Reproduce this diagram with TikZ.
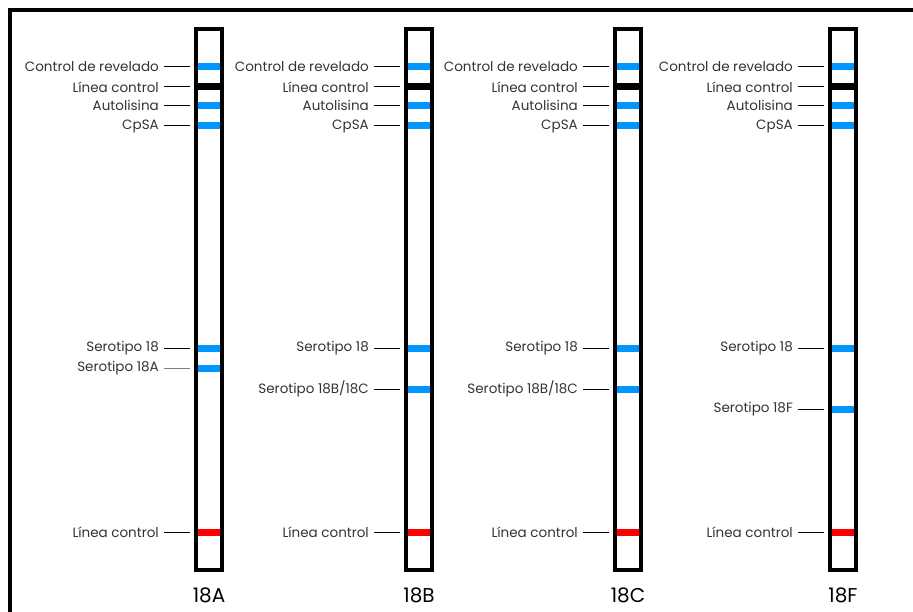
\documentclass[tikz,border=0pt]{standalone}
\usepackage{fontspec}
\setmainfont{Poppins}
\definecolor{bandblue}{RGB}{0,150,255}
\definecolor{bandred}{RGB}{255,0,0}
\definecolor{labgray}{RGB}{51,51,51}
\newcommand\mkband[7]{%
  \node[band,fill=#6] (b#1#3) at (#2,#4) {};
  \node[lab] (t#1#3) at (#2-50,#4) {#5};
  \draw[conn,#7] ([xshift=5pt]t#1#3.east) -- ([xshift=-8pt]b#1#3.west);
}
\begin{document}
\begin{tikzpicture}[x=1pt,y=-1pt,
  strip/.style={draw=black,line width=4pt,fill=white,inner sep=0pt,minimum width=26pt,minimum height=541pt},
  band/.style={inner sep=0pt,minimum width=22pt,minimum height=7pt,draw=none},
  lab/.style={anchor=east,inner sep=0pt,font=\fontsize{13.5}{15}\selectfont,text=labgray},
  conn/.style={line width=1pt},
  stitle/.style={font=\fontsize{20}{22}\selectfont,text=black}
]
\useasboundingbox (0,0) rectangle (913,612);
\draw[line width=4pt] (10.3,614) -- (10.3,10.3) -- (915,10.3);
\foreach \i/\cx/\tit in {1/209/18A,2/419/18B,3/628/18C,4/843/18F}{
  \node[strip] (s\i) at (\cx,299.4) {};
  \node[stitle] (n\i) at (\cx,595) {\tit};
  \mkband{\i}{\cx}{a}{66.5}{Control de revelado}{bandblue}{black}
  \mkband{\i}{\cx}{b}{87}{Línea control}{black}{black}
  \mkband{\i}{\cx}{c}{105.5}{Autolisina}{bandblue}{black}
  \mkband{\i}{\cx}{d}{126}{CpSA}{bandblue}{black}
  \mkband{\i}{\cx}{e}{348.5}{Serotipo 18}{bandblue}{black}
  \mkband{\i}{\cx}{g}{532}{Línea control}{bandred}{black}
}
\mkband{1}{209}{f}{368.5}{Serotipo 18A}{bandblue}{gray}
\mkband{2}{419}{f}{389}{Serotipo 18B/18C}{bandblue}{black}
\mkband{3}{628}{f}{389}{Serotipo 18B/18C}{bandblue}{black}
\mkband{4}{843}{f}{409.5}{Serotipo 18F}{bandblue}{black}
\end{tikzpicture}
\end{document}
